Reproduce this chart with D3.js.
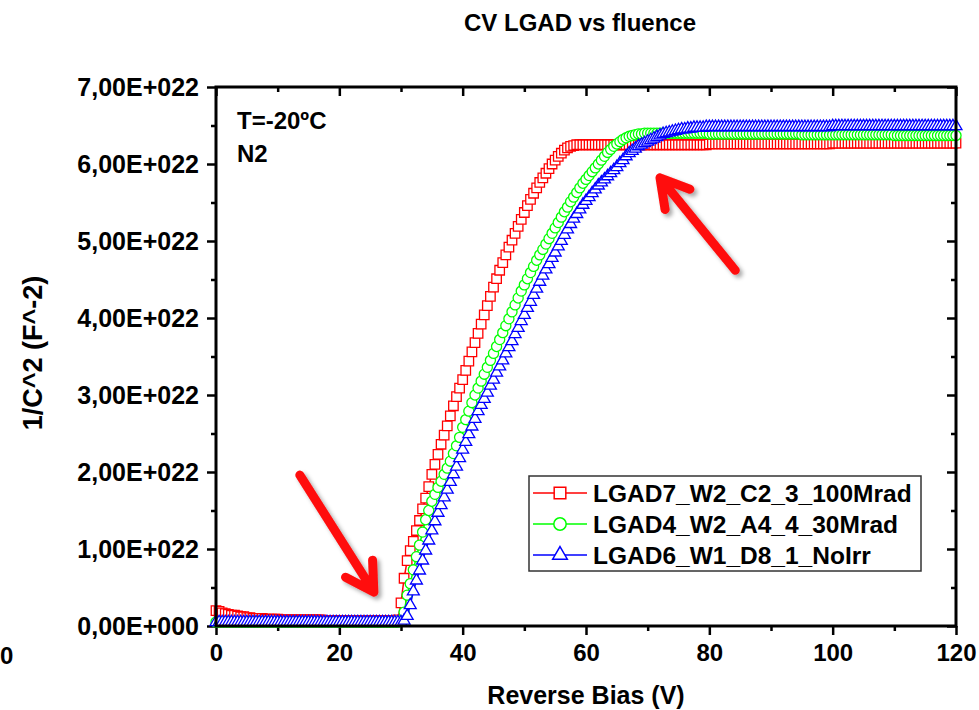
<!DOCTYPE html>
<html><head><meta charset="utf-8">
<script src="https://cdn.jsdelivr.net/npm/d3@7/dist/d3.min.js"></script>
<style>
body{margin:0;background:#fff}
text{font-family:"Liberation Sans",Arial,sans-serif;font-weight:bold;fill:#000}
</style>
</head><body>
<svg id="chart" width="979" height="710"></svg>
<script>
// ---------------- DATA ----------------
const chartTitle = "CV LGAD vs fluence";
const xLabel = "Reverse Bias (V)";
const yLabel = "1/C^2 (F^-2)";
const notes = ["T=-20ºC", "N2"];
const seriesNames = ["LGAD7_W2_C2_3_100Mrad", "LGAD4_W2_A4_4_30Mrad", "LGAD6_W1_D8_1_NoIrr"];
const seriesColors = ["#ff0000", "#00ff00", "#0000ff"];
const seriesSymbols = ["square", "circle", "triangle"];
// bias sweep: 0 V to 120 V in 0.5 V steps
const biasStart = 0, biasStep = 0.5;
// 1/C^2 values in units of 1E+022 F^-2
const red = [
 .20,.19,.17,.16,.15,.14,.14,.13,.12,.12,
 .11,.11,.10,.10,.10,.10,.09,.09,.09,.09,
 .09,.08,.08,.08,.08,.08,.08,.08,.08,.08,
 .08,.08,.08,.08,.08,.07,.07,.07,.07,.07,
 .07,.07,.07,.07,.07,.07,.07,.07,.07,.07,
 .07,.07,.07,.07,.07,.07,.07,.07,.07,.08,
 0.30,0.62,0.85,0.98,1.10,1.24,1.37,1.52,1.66,1.81,
 1.97,2.10,2.23,2.36,2.48,2.60,2.73,2.86,2.98,3.09,
 3.20,3.32,3.44,3.56,3.68,3.80,3.92,4.04,4.16,4.28,
 4.40,4.51,4.62,4.72,4.82,4.92,5.01,5.10,5.19,5.28,
 5.37,5.46,5.54,5.62,5.69,5.76,5.82,5.88,5.94,6.00,
 6.05,6.10,6.14,6.18,6.21,6.23,6.24,6.25,6.25,6.25,
 6.25,6.25,6.25,6.25,6.25,6.25,6.25,6.25,6.25,6.25,
 6.25,6.25,6.25,6.25,6.25,6.25,6.25,6.25,6.25,6.25,
 6.25,6.25,6.25,6.25,6.25,6.25,6.25,6.25,6.25,6.25,
 6.25,6.25,6.25,6.25,6.25,6.25,6.25,6.25,6.25,6.25,
 6.26,6.26,6.26,6.26,6.26,6.26,6.26,6.26,6.26,6.26,
 6.26,6.26,6.26,6.26,6.26,6.26,6.26,6.26,6.26,6.26,
 6.26,6.26,6.26,6.26,6.26,6.26,6.26,6.26,6.26,6.26,
 6.26,6.26,6.26,6.26,6.26,6.26,6.26,6.26,6.26,6.26,
 6.27,6.27,6.27,6.27,6.27,6.27,6.27,6.27,6.27,6.27,
 6.27,6.27,6.27,6.27,6.27,6.27,6.27,6.27,6.27,6.27,
 6.27,6.27,6.27,6.27,6.27,6.27,6.27,6.27,6.27,6.27,
 6.27,6.27,6.27,6.27,6.27,6.27,6.27,6.27,6.27,6.27,
 6.27
];
const green = [
 .05,.05,.05,.05,.05,.05,.05,.05,.05,.05,
 .05,.05,.05,.05,.05,.05,.05,.05,.05,.05,
 .05,.05,.05,.05,.05,.05,.05,.05,.05,.05,
 .05,.05,.05,.05,.05,.05,.05,.05,.05,.05,
 .05,.05,.05,.05,.05,.05,.05,.05,.05,.05,
 .05,.05,.05,.05,.05,.05,.05,.05,.05,.05,
 0.07,0.18,0.40,0.55,0.73,0.90,1.05,1.22,1.38,1.50,
 1.62,1.71,1.80,1.88,1.97,2.05,2.14,2.24,2.34,2.45,
 2.58,2.68,2.79,2.90,3.00,3.09,3.18,3.27,3.36,3.45,
 3.54,3.63,3.72,3.81,3.90,3.99,4.08,4.17,4.26,4.35,
 4.43,4.51,4.59,4.67,4.75,4.82,4.89,4.96,5.03,5.10,
 5.17,5.24,5.31,5.38,5.44,5.51,5.57,5.63,5.69,5.75,
 5.80,5.85,5.90,5.95,6.00,6.05,6.10,6.15,6.19,6.23,
 6.26,6.29,6.32,6.34,6.36,6.37,6.38,6.39,6.39,6.40,
 6.40,6.40,6.40,6.40,6.40,6.40,6.40,6.40,6.40,6.40,
 6.40,6.40,6.40,6.40,6.40,6.40,6.40,6.40,6.40,6.40,
 6.39,6.39,6.39,6.39,6.39,6.39,6.39,6.39,6.39,6.39,
 6.39,6.39,6.39,6.39,6.39,6.39,6.39,6.39,6.39,6.39,
 6.39,6.39,6.39,6.39,6.39,6.39,6.39,6.39,6.39,6.39,
 6.38,6.38,6.38,6.38,6.38,6.38,6.38,6.38,6.38,6.38,
 6.38,6.38,6.38,6.38,6.38,6.38,6.38,6.38,6.38,6.38,
 6.38,6.38,6.38,6.38,6.38,6.38,6.38,6.38,6.38,6.38,
 6.37,6.37,6.37,6.37,6.37,6.37,6.37,6.37,6.37,6.37,
 6.37,6.37,6.37,6.37,6.37,6.37,6.37,6.37,6.37,6.37,
 6.37
];
const blue = [
 .05,.05,.05,.05,.05,.05,.05,.05,.05,.05,
 .05,.05,.05,.05,.05,.05,.05,.05,.05,.05,
 .05,.05,.05,.05,.05,.05,.05,.05,.05,.05,
 .05,.05,.05,.05,.05,.05,.05,.05,.05,.05,
 .05,.05,.05,.05,.05,.05,.05,.05,.05,.05,
 .05,.05,.05,.05,.05,.05,.05,.05,.05,.05,
 0.05,0.07,0.13,0.27,0.45,0.59,0.72,0.85,0.98,1.11,
 1.24,1.36,1.47,1.57,1.67,1.77,1.87,1.97,2.07,2.18,
 2.29,2.39,2.49,2.59,2.69,2.79,2.87,2.95,3.03,3.12,
 3.20,3.29,3.37,3.45,3.54,3.62,3.70,3.79,3.87,3.96,
 4.04,4.13,4.21,4.30,4.38,4.47,4.55,4.63,4.70,4.78,
 4.85,4.93,5.00,5.08,5.15,5.22,5.29,5.35,5.41,5.47,
 5.52,5.57,5.62,5.67,5.72,5.76,5.80,5.84,5.88,5.92,
 5.96,6.01,6.05,6.10,6.14,6.17,6.20,6.23,6.25,6.27,
 6.29,6.31,6.33,6.35,6.37,6.39,6.40,6.41,6.42,6.43,
 6.44,6.45,6.45,6.46,6.46,6.47,6.47,6.47,6.47,6.48,
 6.48,6.48,6.48,6.48,6.48,6.48,6.48,6.48,6.48,6.48,
 6.48,6.48,6.48,6.48,6.48,6.48,6.48,6.48,6.48,6.48,
 6.48,6.48,6.48,6.48,6.48,6.48,6.48,6.48,6.48,6.48,
 6.48,6.48,6.48,6.48,6.48,6.48,6.48,6.48,6.48,6.48,
 6.49,6.49,6.49,6.49,6.49,6.49,6.49,6.49,6.49,6.49,
 6.49,6.49,6.49,6.49,6.49,6.49,6.49,6.49,6.49,6.49,
 6.49,6.49,6.49,6.49,6.49,6.49,6.49,6.49,6.49,6.49,
 6.49,6.49,6.49,6.49,6.49,6.49,6.49,6.49,6.49,6.49,
 6.49
];
const xTicks = [0, 20, 40, 60, 80, 100, 120];
const xMinorTicks = [10, 30, 50, 70, 90, 110];
const yTicks = [0, 1, 2, 3, 4, 5, 6, 7];
const yMinorTicks = [0.5, 1.5, 2.5, 3.5, 4.5, 5.5, 6.5];
const yTickLabels = ["0,00E+000","1,00E+022","2,00E+022","3,00E+022","4,00E+022","5,00E+022","6,00E+022","7,00E+022"];
// annotation arrows: [tailV, tail(1E22), tipV, tip(1E22)]
const arrows = [[13.6, 1.96, 25.6, 0.44], [84.2, 4.62, 72.0, 5.82]];

// ---------------- DRAW ----------------
const svg = d3.select("#chart");
const x = d3.scaleLinear().domain([0, 120]).range([216, 956]);
const y = d3.scaleLinear().domain([0, 7]).range([626, 87]);
const FS = 24;

svg.append("defs").append("filter").attr("id","shadow").attr("x","-30%").attr("y","-30%").attr("width","160%").attr("height","160%")
  .append("feDropShadow").attr("dx",3).attr("dy",3).attr("stdDeviation",2).attr("flood-color","#000").attr("flood-opacity",0.35);

// title
svg.append("text").attr("x", 580).attr("y", 31).attr("text-anchor","middle").attr("font-size", FS).text(chartTitle);

// axes
function styleAxis(g, fs){
  g.select(".domain").remove();
  g.selectAll(".tick line").attr("stroke","#000").attr("stroke-width",2.5);
  g.selectAll(".tick text").attr("font-size", fs || FS).attr("font-family",'"Liberation Sans",Arial,sans-serif').attr("font-weight","bold").attr("fill","#000");
}
const fmtY = (d)=> yTickLabels[yTicks.indexOf(d)];
const fmtX = (d)=> String(d);
svg.append("g").attr("transform","translate(216,0)")
  .call(d3.axisLeft(y).tickValues(yTicks).tickFormat(fmtY).tickSize(9).tickSizeOuter(0).tickPadding(8)).call(styleAxis, 25);
svg.append("g").attr("transform","translate(216,0)")
  .call(d3.axisLeft(y).tickValues(yMinorTicks).tickFormat("").tickSize(5).tickSizeOuter(0)).call(styleAxis);
svg.append("g").attr("transform","translate(0,626)")
  .call(d3.axisBottom(x).tickValues(xTicks).tickFormat(fmtX).tickSize(9).tickSizeOuter(0).tickPadding(9)).call(styleAxis);
svg.append("g").attr("transform","translate(0,626)")
  .call(d3.axisBottom(x).tickValues(xMinorTicks).tickFormat("").tickSize(5).tickSizeOuter(0)).call(styleAxis);
// mirrored axes, ticks pointing inward
svg.append("g").attr("transform","translate(0,87)")
  .call(d3.axisBottom(x).tickValues(xTicks).tickFormat("").tickSize(9).tickSizeOuter(0)).call(styleAxis);
svg.append("g").attr("transform","translate(0,87)")
  .call(d3.axisBottom(x).tickValues(xMinorTicks).tickFormat("").tickSize(5).tickSizeOuter(0)).call(styleAxis);
svg.append("g").attr("transform","translate(956,0)")
  .call(d3.axisLeft(y).tickValues(yTicks).tickFormat("").tickSize(9).tickSizeOuter(0)).call(styleAxis);
svg.append("g").attr("transform","translate(956,0)")
  .call(d3.axisLeft(y).tickValues(yMinorTicks).tickFormat("").tickSize(5).tickSizeOuter(0)).call(styleAxis);

// data
const allSeries = [red, green, blue];
const symbolTypes = {square: d3.symbolSquare, circle: d3.symbolCircle, triangle: d3.symbolTriangle};
const symbolSizes = {square: 90, circle: 80, triangle: 62};
const plot = svg.append("g");
allSeries.forEach((vals, si) => {
  const pts = vals.map((v, i) => [biasStart + i * biasStep, v]);
  const g = plot.append("g");
  g.append("path").attr("d", d3.line().x(d=>x(d[0])).y(d=>y(d[1]))(pts))
    .attr("fill","none").attr("stroke", seriesColors[si]).attr("stroke-width",1.5);
  const sym = d3.symbol().type(symbolTypes[seriesSymbols[si]]).size(symbolSizes[seriesSymbols[si]]);
  g.selectAll("path.m").data(pts).enter().append("path").attr("class","m")
    .attr("transform", d => `translate(${x(d[0])},${y(d[1])})`)
    .attr("d", sym()).attr("fill","#fff").attr("stroke", seriesColors[si]).attr("stroke-width",1.3);
});

// frame
svg.append("rect").attr("x",216).attr("y",87).attr("width",956-216).attr("height",626-87)
  .attr("fill","none").attr("stroke","#000").attr("stroke-width",3);

// axis titles
svg.append("text").attr("x", 586).attr("y", 704).attr("text-anchor","middle").attr("font-size", 25).text(xLabel);
svg.append("text").attr("transform","translate(42,353) rotate(-90)").attr("text-anchor","middle").attr("font-size", 27).text(yLabel);
// stray label at the left edge
svg.append("text").attr("x", 0).attr("y", 664).attr("text-anchor","start").attr("font-size", FS).text("0");

// notes
svg.append("text").attr("x", 237).attr("y", 129).attr("font-size", FS).text(notes[0]);
svg.append("text").attr("x", 237).attr("y", 162).attr("font-size", FS).text(notes[1]);

// legend
const lg = svg.append("g");
lg.append("rect").attr("x",529).attr("y",476).attr("width",392).attr("height",95)
  .attr("fill","#fff").attr("stroke","#333").attr("stroke-width",1.5);
seriesNames.forEach((n, i) => {
  const yy = 493 + i * 31;
  lg.append("line").attr("x1",533).attr("x2",587).attr("y1",yy).attr("y2",yy).attr("stroke",seriesColors[i]).attr("stroke-width",1.5);
  const sym = d3.symbol().type(symbolTypes[seriesSymbols[i]]).size(symbolSizes[seriesSymbols[i]] * 1.5);
  lg.append("path").attr("transform",`translate(560,${yy})`).attr("d", sym()).attr("fill","#fff").attr("stroke",seriesColors[i]).attr("stroke-width",1.5);
  lg.append("text").attr("x",593).attr("y",yy+9).attr("font-size",24.5).text(n);
});

// arrows
const ag = svg.append("g").attr("filter","url(#shadow)");
arrows.forEach(a => {
  const x0 = x(a[0]), y0 = y(a[1]), x1 = x(a[2]), y1 = y(a[3]);
  const dx = x0 - x1, dy = y0 - y1, L = Math.hypot(dx, dy);
  const ux = dx / L, uy = dy / L, wl = 32, ang = Math.PI / 6;
  const w1 = [x1 + wl * (ux*Math.cos(ang) - uy*Math.sin(ang)), y1 + wl * (ux*Math.sin(ang) + uy*Math.cos(ang))];
  const w2 = [x1 + wl * (ux*Math.cos(-ang) - uy*Math.sin(-ang)), y1 + wl * (ux*Math.sin(-ang) + uy*Math.cos(-ang))];
  ag.append("path").attr("d", `M${x0},${y0}L${x1},${y1}M${w1[0]},${w1[1]}L${x1},${y1}L${w2[0]},${w2[1]}`)
    .attr("fill","none").attr("stroke","#ff0a0a").attr("stroke-width",9).attr("stroke-linecap","round").attr("stroke-linejoin","round");
});
</script>
</body></html>
